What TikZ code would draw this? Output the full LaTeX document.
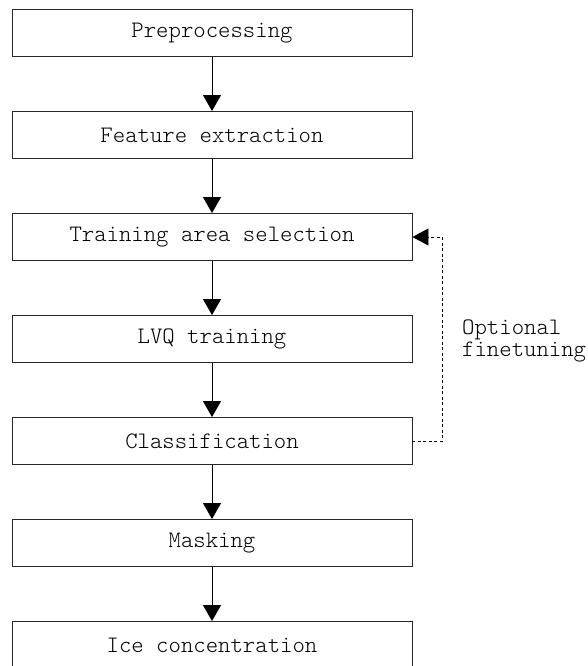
\documentclass[tikz,border=0pt]{standalone}
\usepackage{fontspec}
\setmonofont{Latin Modern Mono Light}
\usetikzlibrary{arrows.meta}
\begin{document}
\begin{tikzpicture}[x=1pt,y=1pt,
  stepbox/.style={draw=black!85, line width=0.9pt, minimum width=400pt, minimum height=47pt, inner sep=0pt,
    font=\ttfamily\fontsize{23.6}{25}\selectfont},
  flow/.style={line width=0.9pt, -{Triangle[width=18pt,length=16pt]}},
  fb/.style={line width=0.9pt, dash pattern=on 3pt off 2.5pt, -{Triangle[width=17pt,length=16pt]}},
  note/.style={font=\ttfamily\fontsize{23.6}{22}\selectfont, align=left, inner sep=0pt, anchor=west}]
\useasboundingbox (0,0) rectangle (587,-666);
\node[stepbox] (b1) at (212,-33) {Preprocessing};
\node[stepbox] (b2) at (212,-135) {Feature extraction};
\node[stepbox] (b3) at (212,-237) {Training area selection};
\node[stepbox] (b4) at (212,-339) {LVQ training};
\node[stepbox] (b5) at (212,-441) {Classification};
\node[stepbox] (b6) at (212,-543) {Masking};
\node[stepbox] (b7) at (212,-645) {Ice concentration};
\draw[flow] (b1) -- (b2);
\draw[flow] (b2) -- (b3);
\draw[flow] (b3) -- (b4);
\draw[flow] (b4) -- (b5);
\draw[flow] (b5) -- (b6);
\draw[flow] (b6) -- (b7);
\draw[fb] (b5.east) -- ++(30,0) |- (b3.east);
\node[note] (lbl) at (462,-341) {Optional\\finetuning};
\end{tikzpicture}
\end{document}
